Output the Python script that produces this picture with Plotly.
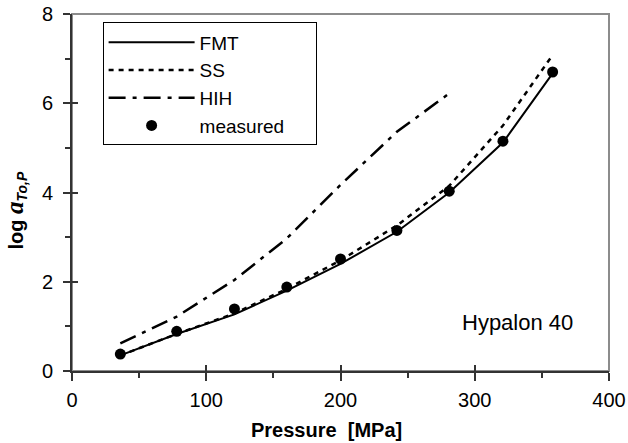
import plotly.graph_objects as go

# Shift factors vs. pressure for Hypalon 40
pressure = [36, 78, 121, 160, 200, 242, 281, 321, 358]
measured = [0.38, 0.89, 1.39, 1.88, 2.51, 3.15, 4.03, 5.15, 6.70]
fmt = [0.35, 0.83, 1.27, 1.80, 2.40, 3.12, 4.00, 5.12, 6.67]
ss = [0.35, 0.83, 1.29, 1.84, 2.48, 3.26, 4.15, 5.50, 7.08]
hih_pressure = [36, 78, 121, 160, 200, 242, 281]
hih = [0.62, 1.22, 2.04, 2.97, 4.17, 5.36, 6.22]

FONT = "Liberation Sans, Arial, sans-serif"
SERIF = "Liberation Serif, Times New Roman, serif"
AXIS_COLOR = "#333333"
PAD = "\u00a0" * 5  # widens the legend box to the right of the labels

fig = go.Figure()
fig.add_trace(go.Scatter(x=pressure, y=fmt, mode="lines", name="FMT",
                         line=dict(color="black", width=2)))
fig.add_trace(go.Scatter(x=pressure, y=ss, mode="lines", name="SS",
                         line=dict(color="black", width=2.5, dash="5px,5px")))
fig.add_trace(go.Scatter(x=hih_pressure, y=hih, mode="lines", name="HIH",
                         line=dict(color="black", width=2.5, dash="17px,7px,4px,7px")))
fig.add_trace(go.Scatter(x=pressure, y=measured, mode="markers", name="measured" + PAD,
                         marker=dict(color="black", size=11, symbol="circle")))

axis_common = dict(showgrid=False, zeroline=False, color=AXIS_COLOR, automargin=False,
                   tickfont=dict(family=FONT, size=20, color="black"))
overlay_common = dict(showticklabels=False, showline=False, showgrid=False,
                      zeroline=False, automargin=False, tickwidth=1.5,
                      tickcolor=AXIS_COLOR)

fig.update_layout(
    width=628, height=443,
    margin=dict(l=72, r=19, t=14, b=72, autoexpand=False),
    paper_bgcolor="white", plot_bgcolor="white",
    font=dict(family=FONT, size=20, color="black"),
    showlegend=True,
    legend=dict(x=0.057, y=0.804, xanchor="left", yanchor="middle",
                bordercolor="black", borderwidth=1, bgcolor="white",
                font=dict(family=FONT, size=19, color="black"),
                itemwidth=86, tracegroupgap=0),
    xaxis=dict(range=[0, 400], dtick=100, ticks="outside", ticklen=8,
               tickwidth=1.5, tickcolor=AXIS_COLOR,
               showline=True, linecolor=AXIS_COLOR, linewidth=2,
               minor=dict(dtick=50, ticks="outside", ticklen=5,
                          tickcolor=AXIS_COLOR, tickwidth=1.5),
               ticklabelstandoff=2, **axis_common),
    yaxis=dict(range=[0, 8], dtick=2, ticks="outside", ticklen=7,
               tickwidth=1.5, tickcolor=AXIS_COLOR,
               showline=True, linecolor=AXIS_COLOR, linewidth=2,
               minor=dict(dtick=1, ticks="outside", ticklen=5,
                          tickcolor=AXIS_COLOR, tickwidth=1.5),
               ticklabelstandoff=6, **axis_common),
    # overlay axes supplying the inner half of the crossing major ticks
    xaxis2=dict(range=[0, 400], dtick=100, ticks="inside", ticklen=6,
                overlaying="x", anchor="y", side="bottom", **overlay_common),
    yaxis2=dict(range=[0, 8], dtick=2, ticks="inside", ticklen=6,
                overlaying="y", anchor="x", side="left", **overlay_common),
    shapes=[dict(type="rect", xref="paper", yref="paper", x0=0, x1=1, y0=0, y1=1,
                 line=dict(color="#8c8c8c", width=2), layer="below")],
    annotations=[
        dict(text="<b>Pressure  [MPa]</b>", xref="paper", yref="paper",
             x=0.473, y=-0.165, xanchor="center", yanchor="middle",
             showarrow=False, font=dict(family=FONT, size=20, color="black")),
        dict(text="<b>log <span style='font-family:" + SERIF + ";font-size:25px'><i>a</i></span>"
                  "<sub><i>To,P</i></sub></b>",
             xref="paper", yref="paper", x=-0.105, y=0.451,
             xanchor="center", yanchor="middle", textangle=-90,
             showarrow=False, font=dict(family=FONT, size=20, color="black")),
        dict(text="Hypalon 40", xref="paper", yref="paper",
             x=0.7225, y=0.137, xanchor="left", yanchor="middle",
             showarrow=False, font=dict(family=FONT, size=22, color="black")),
    ],
)

# invisible trace so the overlay axes are laid out
fig.add_trace(go.Scatter(x=[0], y=[0], xaxis="x2", yaxis="y2", mode="markers",
                         marker=dict(opacity=0), showlegend=False, hoverinfo="skip"))

fig.write_html("out.html")
